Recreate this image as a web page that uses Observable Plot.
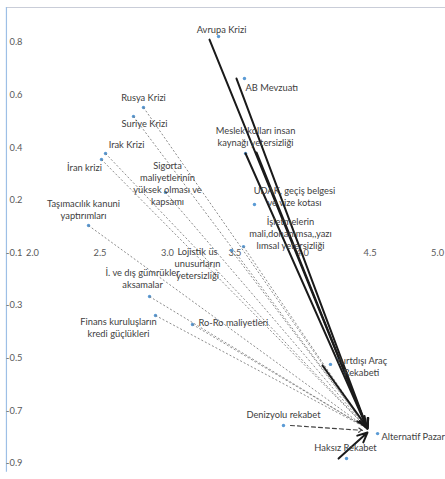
<!DOCTYPE html>
<html><head><meta charset="utf-8">
<script src="https://cdn.jsdelivr.net/npm/d3@7"></script>
<script src="https://cdn.jsdelivr.net/npm/@observablehq/plot@0.6"></script>
<style>body{margin:0;background:#fff}</style>
</head><body><div id="chart"></div>
<script>
// ---- data ----
const names = [
  "Avrupa Krizi", "AB Mevzuatı", "Rusya Krizi", "Suriye Krizi", "Irak Krizi", "İran krizi",
  "Sigorta\nmaliyetlerinin\nyüksek olması ve\nkapsamı",
  "Meslek kolları insan\nkaynağı yetersizliği",
  "Taşımacılık kanuni\nyaptırımları",
  "UDAK, geçiş belgesi\nve vize kotası",
  "İşletmelerin\nmali,donanımsa,,yazı\nlımsal yetersizliği",
  "Lojistik üs\nunusurların\nyetersizliği",
  "İ. ve dış gümrükler\naksamalar",
  "Finans kuruluşların\nkredi güçlükleri",
  "Ro-Ro maliyetleri",
  "Yurtdışı Araç\nRekabeti",
  "Denizyolu rekabet",
  "Alternatif Pazar",
  "Haksız Rekabet"
];
const xValues = [3.378, 3.570, 2.822, 2.748, 2.541, 2.511, 2.985, 3.578, 2.415, 3.644, 3.563, 3.474, 2.867, 2.911, 3.185, 4.207, 3.859, 4.556, 4.326];
const yValues = [0.773, 0.613, 0.503, 0.469, 0.328, 0.305, 0.180, 0.328, 0.054, 0.134, -0.026, -0.041, -0.216, -0.288, -0.322, -0.474, -0.706, -0.737, -0.832];

// strong links (solid arrows) toward "Alternatif Pazar"
const strongX1 = [3.311, 3.511, 3.578, 3.659, 4.148, 4.267];
const strongY1 = [0.761, 0.613, 0.328, 0.332, -0.478, -0.832];
const strongX2 = [4.481, 4.481, 4.481, 4.481, 4.474, 4.481];
const strongY2 = [-0.718, -0.718, -0.718, -0.718, -0.710, -0.733];
// medium link (dashed arrow)
const mediumX1 = [3.911];
const mediumY1 = [-0.706];
const mediumX2 = [4.444];
const mediumY2 = [-0.725];
// weak links (dotted lines) from these factors
const weakFrom = [2, 3, 4, 5, 6, 8, 10, 11, 12, 13, 14];
const weakX2 = 4.481, weakY2 = -0.718;

// tick values and their printed labels
const xTicks = [2.0, 2.5, 3.0, 3.5, 4.0, 4.5, 5.0];
const xTickLabels = ["2.0", "2.5", "3.0", "3.5", "4.0", "4.5", "5.0"];
const yTicks = [0.75, 0.55, 0.35, 0.15, -0.05, -0.25, -0.45, -0.65, -0.85];
const yTickLabels = ["0.8", "0.6", "0.4", "0.2", "-0.1", "-0.3", "-0.5", "-0.7", "-0.9"];
const xAxisCross = -0.05;

// ---- layout (not data) ----
const frame = {left: 1.807, top: 0.883, bottom: -0.884};
const labelLayout = [
  [3, -7, "middle"], [1, 9, "start"], [0, -10, "middle"], [11, 7, "middle"], [21, -9, "middle"], [-17, 8, "middle"],
  [2, -9, "middle"], [10, -17, "middle"], [-5, -16, "middle"], [40, -8.5, "middle"], [47, -13, "middle"],
  [-34, 13, "middle"], [-7, -18, "middle"], [-37, 11.5, "middle"], [6, -2, "start"], [31, 1.5, "middle"],
  [0, -11, "middle"], [4, 3, "start"], [-1, -11, "middle"]
];

const pts = names.map((n, i) => ({name: n, x: xValues[i], y: yValues[i], dx: labelLayout[i][0], dy: labelLayout[i][1], anchor: labelLayout[i][2]}));
const strong = strongX1.map((d, i) => ({x1: d, y1: strongY1[i], x2: strongX2[i], y2: strongY2[i]}));
const medium = mediumX1.map((d, i) => ({x1: d, y1: mediumY1[i], x2: mediumX2[i], y2: mediumY2[i]}));
const weak = weakFrom.map(i => ({x1: xValues[i], y1: yValues[i], x2: weakX2, y2: weakY2}));

const font = "Lato, 'Open Sans', sans-serif";

// per-label offsets: one text mark per label
const labels = pts.map(p => Plot.text([p], {
  x: "x", y: "y", text: "name", textAnchor: p.anchor, lineAnchor: "middle", lineHeight: 1.28,
  dx: p.dx, dy: p.dy, fill: "#404040", fontSize: 9.3, fontFamily: font
}));

const chart = Plot.plot({
  width: 445, height: 479,
  margin: 0,
  x: {domain: [1.763, 5.059], axis: null},
  y: {domain: [-0.9116, 0.9097], axis: null},
  style: {background: "#fff", fontFamily: font},
  marks: [
    Plot.ruleY([frame.top], {x1: frame.left, x2: 5.059, stroke: "#c9cdd8", strokeWidth: 1.2}),
    Plot.ruleX([frame.left], {y1: frame.bottom, y2: frame.top, stroke: "#9dbfe6", strokeWidth: 1.2}),
    Plot.text(yTicks, {y: d => d, text: d => yTickLabels[yTicks.indexOf(d)], frameAnchor: "left", textAnchor: "end", dx: 22, fill: "#595959", fontSize: 9.3, fontFamily: font}),
    Plot.text(xTicks, {x: d => d, y: () => xAxisCross, text: d => xTickLabels[xTicks.indexOf(d)], fill: "#595959", fontSize: 9.3, fontFamily: font}),
    Plot.dot(pts, {x: "x", y: "y", r: 1.7, fill: "#5b9bd5", stroke: "none"}),
    Plot.link(weak, {x1: "x1", y1: "y1", x2: "x2", y2: "y2", stroke: "#6f6f6f", strokeWidth: 0.8, strokeDasharray: "2,2"}),
    Plot.arrow(medium, {x1: "x1", y1: "y1", x2: "x2", y2: "y2", stroke: "#404040", strokeWidth: 1.1, strokeDasharray: "4,3", headLength: 6, bend: 0}),
    Plot.arrow(strong, {x1: "x1", y1: "y1", x2: "x2", y2: "y2", stroke: "#1a1a1a", strokeWidth: 2, headLength: 8, headAngle: 50, bend: 0}),
    ...labels
  ]
});
document.getElementById("chart").append(chart);
</script>
</body></html>
